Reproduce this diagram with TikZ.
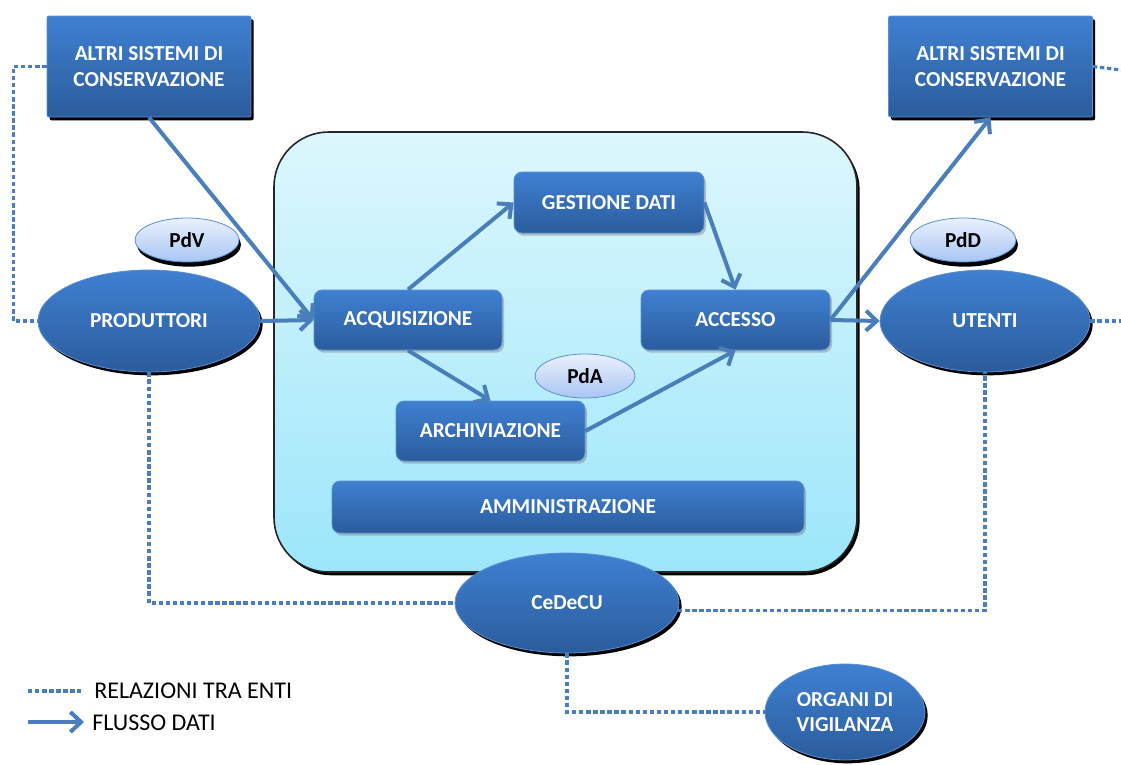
\documentclass[tikz,border=0pt]{standalone}
\usepackage{fontspec}
\setmainfont{Carlito}
\usetikzlibrary{shapes.geometric,shadows,arrows.meta}
\definecolor{bluetop}{HTML}{3F80D2}
\definecolor{bluebot}{HTML}{2B5C9C}
\definecolor{blueline}{HTML}{5B8FD0}
\definecolor{flow}{HTML}{4A7EBB}
\definecolor{contop}{HTML}{DDF7FD}
\definecolor{conbot}{HTML}{9CE6FA}
\definecolor{pdtop}{HTML}{EAF1FF}
\definecolor{pdbot}{HTML}{A8C5F2}
\begin{document}
\begin{tikzpicture}[x=0.75pt,y=-0.75pt,
 lbl/.style={font=\fontsize{16}{19}\selectfont\bfseries, text=white, align=center},
 hardshadow/.style={drop shadow={shadow xshift=2pt,shadow yshift=-2.5pt,fill=black,opacity=1}},
 bigbox/.style={lbl, rectangle, rounded corners=1.5pt, top color=bluetop, bottom color=bluebot, draw=blueline, line width=0.6pt, hardshadow, minimum width=153pt, minimum height=75.75pt, inner sep=0pt},
 proc/.style={lbl, rectangle, rounded corners=6pt, top color=bluetop, bottom color=bluebot, draw=blueline, line width=0.6pt, drop shadow={shadow xshift=1.5pt,shadow yshift=-2pt,opacity=0.45}, minimum height=45pt, inner sep=0pt},
 ent/.style={lbl, ellipse, top color=bluetop, bottom color=bluebot, draw=blueline, line width=0.6pt, hardshadow, inner sep=0pt},
 pack/.style={ellipse, font=\fontsize{16}{19}\selectfont\bfseries, text=black, top color=pdtop, bottom color=pdbot, draw=blueline, line width=0.6pt, inner sep=0pt, minimum height=33pt},
 flowarrow/.style={draw=flow, line width=3pt, -{Straight Barb[length=8pt,width=15pt]}},
 rel/.style={draw=flow, line width=2.4pt, dash pattern=on 3.3pt off 2pt},
 legendtext/.style={font=\fontsize{18}{20}\selectfont, text=black, anchor=west, inner sep=0pt}
]
\useasboundingbox[fill=white] (0,0) rectangle (1121,764);

% container
\node[draw=black!85, line width=1.2pt, top color=contop, bottom color=conbot, rounded corners=41pt, hardshadow, minimum width=437.25pt, minimum height=330pt, inner sep=0pt] (sys) at (565.5,352) {};

% outer boxes
\node[bigbox] (lbox) at (149,66.5) {ALTRI SISTEMI DI\\CONSERVAZIONE};
\node[bigbox] (rbox) at (990.5,66.5) {ALTRI SISTEMI DI\\CONSERVAZIONE};

% packages
\node[pack, drop shadow={shadow xshift=1.5pt,shadow yshift=-3.5pt,fill=black,opacity=1}, minimum width=78pt] (pdv) at (187,240) {PdV};
\node[pack, drop shadow={shadow xshift=1.5pt,shadow yshift=-3.5pt,fill=black,opacity=1}, minimum width=79.5pt] (pdd) at (963,240) {PdD};
\node[pack, minimum width=75pt] (pda) at (585,376) {PdA};

% entities
\node[ent, minimum width=166.5pt, minimum height=76.5pt] (prod) at (149,321) {PRODUTTORI};
\node[ent, minimum width=157.5pt, minimum height=76.5pt] (ut) at (985,321) {UTENTI};
\node[ent, minimum width=168pt, minimum height=75pt] (ced) at (567,603) {CeDeCU};
\node[ent, minimum width=120pt, minimum height=72pt] (org) at (845,712) {ORGANI DI\\VIGILANZA};

% processes
\node[proc, minimum width=141pt] (acq) at (408,320) {ACQUISIZIONE};
\node[proc, minimum width=142.5pt, minimum height=45.75pt] (ges) at (609,202.5) {GESTIONE DATI};
\node[proc, minimum width=141.75pt] (acc) at (735.5,320) {ACCESSO};
\node[proc, minimum width=141.75pt] (arch) at (490.5,431) {ARCHIVIAZIONE};
\node[proc, minimum width=354pt, minimum height=39pt] (amm) at (568,507) {AMMINISTRAZIONE};

% relations (dotted)
\coordinate (redge1) at (1121,70);
\coordinate (redge2) at (1121,321);
\draw[rel] (lbox.west) -- ++(-33,0) |- (prod.west);
\draw[rel] (rbox.east) -- (redge1);
\draw[rel] (ut.east) -- (redge2);
\draw[rel] (prod.south) |- (ced.west);
\draw[rel] (ced.-4) -| (ut.south);
\draw[rel] (ced.south) |- (org.west);

% data flow
\draw[flowarrow] (lbox.south) -- (acq.west);
\draw[flowarrow] (prod.east) -- (acq.west);
\draw[flowarrow] (acq.north) -- (ges.west);
\draw[flowarrow] (ges.east) -- (acc.north);
\draw[flowarrow] (acq.south) -- (arch.north);
\draw[flowarrow] (arch.east) -- (acc.south);
\draw[flowarrow] (acc.east) -- (ut.west);
\draw[flowarrow] (acc.east) -- (rbox.south);

% legend
\coordinate (la) at (28,691);
\coordinate (lb) at (81,691);
\coordinate (lc) at (28,722);
\coordinate (ld) at (84,722);
\draw[rel] (la) -- (lb);
\draw[flowarrow] (lc) -- (ld);
\node[legendtext] (t1) at (94,691) {RELAZIONI TRA ENTI};
\node[legendtext] (t2) at (92,723) {FLUSSO DATI};
\end{tikzpicture}
\end{document}
